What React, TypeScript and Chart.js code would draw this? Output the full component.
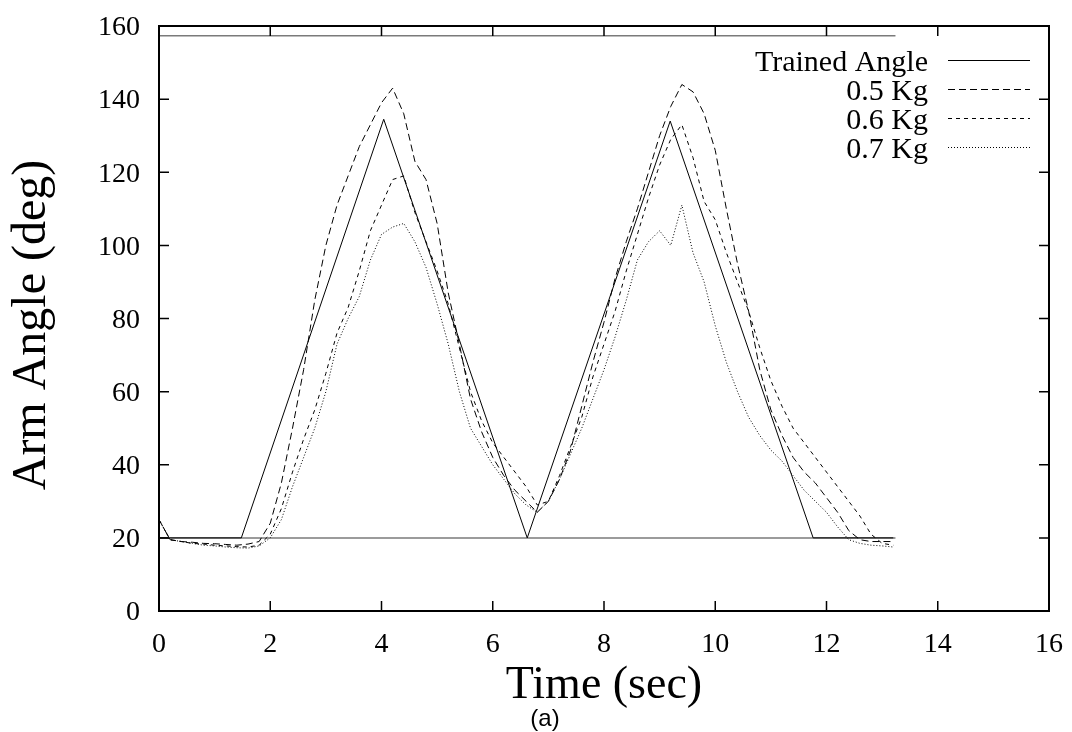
import React, { useEffect, useRef } from "react";
import { Chart, registerables } from "chart.js";

Chart.register(...registerables);

// Time samples (sec) for the measured curves
const TIME = [
  0, 0.2, 0.4, 0.6, 0.8, 1.0, 1.2, 1.4, 1.6, 1.8,
  2.0, 2.2, 2.4, 2.6, 2.8, 3.0, 3.2, 3.4, 3.6, 3.8,
  4.0, 4.2, 4.4, 4.6, 4.8, 5.0, 5.2, 5.4, 5.6, 5.8,
  6.0, 6.2, 6.4, 6.6, 6.8, 7.0, 7.2, 7.4, 7.6, 7.8,
  8.0, 8.2, 8.4, 8.6, 8.8, 9.0, 9.2, 9.4, 9.6, 9.8,
  10.0, 10.2, 10.4, 10.6, 10.8, 11.0, 11.2, 11.4, 11.6, 11.8,
  12.0, 12.2, 12.4, 12.6, 12.8, 13.0, 13.2,
];

const KG05 = [
  25, 19.5, 19, 18.8, 18.5, 18.4, 18.2, 18, 18.3, 19,
  24, 35, 50, 66, 85, 100, 111, 119, 127, 133,
  139, 143, 136, 123, 118, 106, 87, 73, 58, 49,
  42, 37, 33, 30, 27, 30, 36, 44, 56, 68,
  79, 91, 101, 110, 120, 130, 138, 144, 142, 136,
  126, 110, 95, 82, 66, 55, 48, 42, 38, 35,
  31, 27, 22, 19.5, 19, 19, 19,
];

const KG06 = [
  25, 19.5, 19, 18.5, 18.3, 18, 17.8, 17.6, 17.5, 18,
  21, 28, 38, 47, 55, 65, 76, 83, 93, 104,
  111, 118, 119, 109, 101, 93, 84, 72, 60, 52,
  46, 42, 38, 34, 29, 30, 37, 45, 53, 64,
  73, 82, 93, 103, 113, 122, 129, 133, 124, 112,
  107, 98, 90, 82, 72, 63, 56, 50, 46, 42,
  38, 34, 30, 26, 21, 18.5, 18,
];

const KG07 = [
  25, 19.5, 19, 18.5, 18, 17.8, 17.5, 17.3, 17.2, 17.8,
  20, 25, 34, 42, 50, 60, 73, 80, 86, 96,
  103, 105, 106, 101, 94, 84, 73, 60, 50, 45,
  40, 36, 32, 29, 27, 30, 36, 43, 50, 58,
  66, 75, 85, 96, 101, 104, 100, 111, 98, 90,
  78, 68, 60, 53, 48, 44, 41, 37, 33, 30,
  27, 23, 19.5, 18.5, 18, 17.8, 17.5,
];

// Trained (reference) angle profile
const TRAIN_T = [0, 1.48, 4.04, 6.62, 9.19, 11.76, 13.2];
const TRAIN_Y = [20, 20, 134.5, 20, 134, 20, 20];

// Range limit lines
const LIMIT_T = [0, 13.24];
const LIMIT_UPPER = [157.3, 157.3];
const LIMIT_LOWER = [20, 20];

const X_TICKS = [0, 2, 4, 6, 8, 10, 12, 14, 16];
const Y_TICKS = [0, 20, 40, 60, 80, 100, 120, 140, 160];

const SERIF = "'Liberation Serif', 'Times New Roman', serif";

const pts = (xs: number[], ys: number[]) => xs.map((x, i) => ({ x, y: ys[i] }));

const decor = {
  id: "decor",
  afterDatasetsDraw(chart: any) {
    const { ctx, chartArea: a, scales } = chart;
    const xs = scales.x;
    const ys = scales.y;
    ctx.save();
    ctx.setLineDash([]);
    ctx.strokeStyle = "#000";
    ctx.lineWidth = 2;
    ctx.strokeRect(a.left, a.top, a.right - a.left, a.bottom - a.top);

    // inside ticks on all four sides
    ctx.lineWidth = 1.5;
    ctx.beginPath();
    for (const v of X_TICKS) {
      const px = xs.getPixelForValue(v);
      ctx.moveTo(px, a.bottom);
      ctx.lineTo(px, a.bottom - 10);
      ctx.moveTo(px, a.top);
      ctx.lineTo(px, a.top + 10);
    }
    for (const v of Y_TICKS) {
      const py = ys.getPixelForValue(v);
      ctx.moveTo(a.left, py);
      ctx.lineTo(a.left + 10, py);
      ctx.moveTo(a.right, py);
      ctx.lineTo(a.right - 10, py);
    }
    ctx.stroke();

    // tick labels
    ctx.fillStyle = "#000";
    ctx.font = `28px ${SERIF}`;
    ctx.textAlign = "center";
    ctx.textBaseline = "alphabetic";
    for (const v of X_TICKS) {
      ctx.fillText(String(v), xs.getPixelForValue(v), a.bottom + 41);
    }
    ctx.textAlign = "right";
    ctx.textBaseline = "middle";
    for (const v of Y_TICKS) {
      ctx.fillText(String(v), a.left - 19, ys.getPixelForValue(v) + 2);
    }

    // axis titles
    ctx.font = `46px ${SERIF}`;
    ctx.textAlign = "center";
    ctx.textBaseline = "alphabetic";
    ctx.fillText("Time (sec)", (a.left + a.right) / 2, a.bottom + 87);

    ctx.save();
    ctx.translate(45, 325);
    ctx.rotate(-Math.PI / 2);
    ctx.font = `48px ${SERIF}`;
    ctx.textAlign = "center";
    ctx.textBaseline = "alphabetic";
    ctx.fillText("Arm Angle (deg)", 0, 0);
    ctx.restore();

    ctx.font = `24px 'Liberation Sans', Arial, sans-serif`;
    ctx.textAlign = "center";
    ctx.textBaseline = "alphabetic";
    ctx.fillText("(a)", 545, 726);

    // key (legend) inside the plot, top right
    const items = chart.data.datasets.filter((d: any) => d.inKey);
    ctx.font = `30px ${SERIF}`;
    ctx.textAlign = "right";
    items.forEach((d: any, i: number) => {
      const base = a.top + 45 + i * 29;
      ctx.fillText(d.label, a.right - 121, base);
      ctx.beginPath();
      ctx.setLineDash(d.borderDash || []);
      ctx.lineWidth = 1;
      ctx.strokeStyle = "#000";
      ctx.moveTo(a.right - 101, base - 10.5);
      ctx.lineTo(a.right - 19, base - 10.5);
      ctx.stroke();
    });
    ctx.restore();
  },
};

export default function App() {
  const ref = useRef<HTMLCanvasElement>(null);

  useEffect(() => {
    if (!ref.current) return;
    const common = { pointRadius: 0, borderWidth: 1, fill: false, tension: 0 };
    const chart = new Chart(ref.current, {
      type: "line",
      data: {
        datasets: [
          {
            label: "Trained Angle",
            data: pts(TRAIN_T, TRAIN_Y),
            borderColor: "#000",
            borderDash: [],
            inKey: true,
            ...common,
          } as any,
          {
            label: "0.5 Kg",
            data: pts(TIME, KG05),
            borderColor: "#000",
            borderDash: [7, 4],
            inKey: true,
            ...common,
          } as any,
          {
            label: "0.6 Kg",
            data: pts(TIME, KG06),
            borderColor: "#000",
            borderDash: [4, 4],
            inKey: true,
            ...common,
          } as any,
          {
            label: "0.7 Kg",
            data: pts(TIME, KG07),
            borderColor: "#000",
            borderDash: [1, 2],
            inKey: true,
            ...common,
          } as any,
          {
            label: "upper limit",
            data: pts(LIMIT_T, LIMIT_UPPER),
            borderColor: "#7a7a7a",
            ...common,
            borderWidth: 1.5,
          } as any,
          {
            label: "lower limit",
            data: pts(LIMIT_T, LIMIT_LOWER),
            borderColor: "#7a7a7a",
            ...common,
            borderWidth: 1.5,
          } as any,
        ],
      },
      options: {
        responsive: false,
        animation: false,
        devicePixelRatio: 1,
        layout: { padding: { left: 159, top: 26, right: 23, bottom: 121 } },
        scales: {
          x: { type: "linear", display: false, min: 0, max: 16 },
          y: { type: "linear", display: false, min: 0, max: 160 },
        },
        plugins: {
          legend: { display: false },
          title: { display: false },
          tooltip: { enabled: false },
        },
        events: [],
      },
      plugins: [decor],
    });
    return () => chart.destroy();
  }, []);

  return (
    <div
      style={{
        position: "fixed",
        left: 0,
        top: 0,
        width: 1072,
        height: 732,
        background: "#fff",
      }}
    >
      <canvas
        ref={ref}
        width={1072}
        height={732}
        style={{ display: "block", width: 1072, height: 732 }}
      />
    </div>
  );
}
